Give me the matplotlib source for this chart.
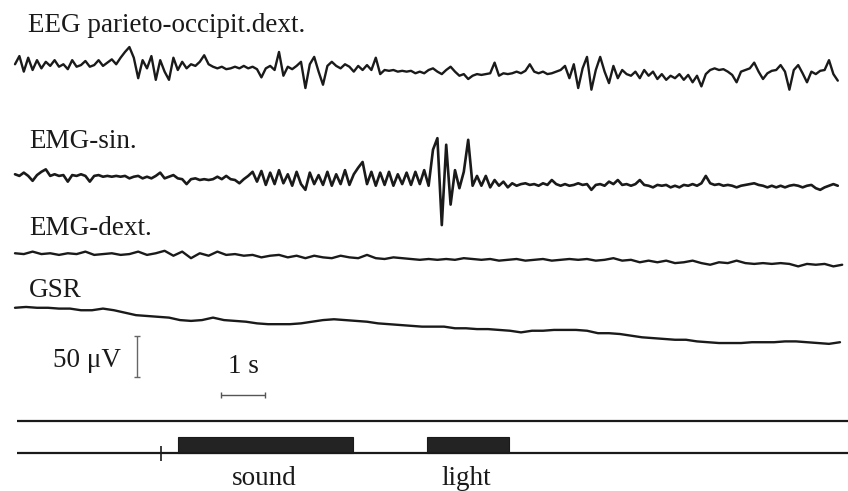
import numpy as np
import matplotlib.pyplot as plt

# traces, in µV relative to each trace's own baseline
eeg_dt = 0.1
eeg_uv = [7, 17, -2, 15, 0, 12, 2, 10, 5, 12,
          4, 7, 1, 12, 4, 6, 11, 4, 6, 12,
          5, 9, 13, 7, 15, 22, 28, 15, -10, 12,
          2, 17, -12, 12, -2, -12, 15, 0, 10, 2,
          7, 5, 10, 18, 7, 4, 2, 4, 1, 2,
          4, 2, 5, 2, 4, 1, -9, 2, 5, 0,
          22, -7, 4, 1, 5, 10, -22, 7, 16, -2,
          -18, 5, 10, 5, 2, 7, 4, -2, 5, 0,
          6, 0, 15, -5, 0, -1, 0, -2, -1, -2,
          -1, -4, -2, -4, 0, 2, -2, -5, 0, 4,
          -2, -7, -5, -11, -7, -5, -6, -5, -4, 9,
          -7, -4, -5, -4, -2, -4, -1, 7, -2, -4,
          -2, -5, -4, -2, 0, 5, -10, 7, -22, 2,
          16, -24, 0, 16, -2, -16, 5, -10, 0, -5,
          -7, -2, -10, 0, -7, -2, -11, -5, -12, -7,
          -10, -5, -12, -6, -15, -7, -20, -5, 0, 2,
          0, 1, -2, -6, -15, -2, 0, 2, 9, -2,
          -11, -4, -1, 0, 6, -2, -24, 0, 6, -4,
          -15, -2, -5, -1, 0, 12, -5, -13]

emg_sin_dt = 0.1
emg_sin_uv = [7, 5, 9, 5, -1, 6, 10, 13, 5, 7,
              5, 6, -2, 6, 5, 7, 5, -2, 5, 6,
              4, 5, 4, 5, 4, 5, 2, 4, 5, 2,
              4, 2, 5, 9, 2, 4, 6, 2, 1, -5,
              1, 2, 0, 1, 0, 1, 4, 1, 5, 1,
              0, -4, 1, 5, 10, -2, 11, -6, 9, -5,
              12, -4, 7, -7, 10, -5, -12, 9, -5, 6,
              -6, 10, -7, 7, -5, 12, -6, 7, 15, 22,
              -5, 10, -7, 9, -6, 10, -7, 7, -5, 9,
              -6, 10, -5, 12, -7, 37, 51, -55, 43, -30,
              12, -10, 10, 49, -7, 5, -7, 5, -9, 0,
              -7, -2, -9, -4, -7, -5, -4, -6, -5, -7,
              -4, -6, 0, -5, -7, -5, -7, -6, -4, -6,
              -5, -12, -6, -5, -7, -2, -5, 0, -6, -5,
              -7, -5, 0, -6, -7, -9, -6, -7, -6, -9,
              -7, -9, -6, -7, -5, -7, -4, 5, -4, -6,
              -5, -7, -6, -7, -9, -7, -6, -5, -4, -6,
              -7, -9, -7, -9, -7, -9, -7, -6, -7, -9,
              -7, -6, -10, -12, -9, -7, -5, -7]

emg_dext_dt = 0.2
emg_dext_uv = [7, 6, 9, 6, 7, 5, 7, 6, 9, 5,
               6, 7, 5, 6, 9, 5, 7, 10, 4, 9,
               1, 7, 4, 9, 5, 6, 4, 5, 2, 4,
               5, 2, 4, 1, 4, 2, 1, 4, 2, 1,
               5, 1, 0, 2, 1, 0, -1, 0, -1, 0,
               -1, 1, 0, -1, 0, -2, -1, 0, -2, -1,
               0, -2, -1, 0, -1, 0, -2, -1, 1, -2,
               -1, -4, -2, -4, -2, -5, -4, -2, -5, -7,
               -4, -5, -2, -5, -6, -5, -6, -5, -6, -9,
               -6, -7, -6, -9, -7]

gsr_dt = 0.25
gsr_uv = [21, 22, 21, 21, 20, 20, 18, 18, 20, 18,
          15, 12, 11, 10, 9, 6, 5, 6, 9, 6,
          5, 4, 2, 1, 1, 1, 2, 4, 6, 7,
          6, 5, 4, 2, 1, 0, -1, -2, -2, -2,
          -4, -4, -5, -5, -6, -7, -9, -7, -7, -6,
          -6, -6, -7, -10, -10, -11, -13, -15, -16, -17,
          -18, -18, -20, -21, -22, -22, -22, -21, -21, -21,
          -20, -20, -21, -22, -23, -21]

channel_names = ["EEG parieto-occipit.dext.", "EMG-sin.", "EMG-dext.", "GSR"]

# stimulus marks, seconds
stim_names = ["sound", "light"]
stim_on = [3.70, 9.36]
stim_off = [7.68, 11.23]
trigger_t = 3.32

# ---- layout: the page is laid out in scan pixels -----------------------
PX_PER_S = 44.0
UV_PER_PX = 50.0 / 41.0


def tx(px):
    return (px - 15) / PX_PER_S


def vy(px):
    return -px * UV_PER_PX


ink = "#1a1a1a"
serif = ["Liberation Serif", "DejaVu Serif"]
fsize = 19.5

fig = plt.figure(figsize=(8.48, 4.91), dpi=100)
ax = fig.add_axes([0, 0, 1, 1])
ax.set_xlim(tx(0), tx(848))
ax.set_ylim(vy(491), vy(0))
ax.axis("off")

traces = [(eeg_uv, eeg_dt, 70, 1.7),
          (emg_sin_uv, emg_sin_dt, 180, 1.9),
          (emg_dext_uv, emg_dext_dt, 259, 1.7),
          (gsr_uv, gsr_dt, 325, 1.7)]
for vals, dt, base, lw in traces:
    t = np.arange(len(vals)) * dt
    ax.plot(t, vy(base) + np.array(vals), color=ink, lw=lw,
            solid_joinstyle="round", solid_capstyle="round")

label_pos = [(28, 32), (29, 148), (29, 235), (29, 297)]
for name, (x, y) in zip(channel_names, label_pos):
    ax.text(tx(x), vy(y), name, family=serif, size=fsize, color=ink,
            va="baseline", ha="left")

# amplitude and time calibration
bar_x = tx(137)
ax.vlines(bar_x, vy(377), vy(377) + 50, color="#666666", lw=1.0)
cap = 3 / PX_PER_S
ax.hlines([vy(377), vy(377) + 50], bar_x - cap, bar_x + cap, color="#666666", lw=1.0)
ax.text(tx(53), vy(367), "50 μV", family=serif, size=fsize, color=ink,
        va="baseline", ha="left")

t0 = tx(221)
ax.hlines(vy(395), t0, t0 + 1.0, color="#555555", lw=1.0)
ax.vlines([t0, t0 + 1.0], vy(398), vy(392), color="#555555", lw=1.0)
ax.text(t0 + 0.5, vy(373), "1 s", family=serif, size=fsize, color=ink,
        va="baseline", ha="center")

# stimulus channels
ax.hlines(vy(421), tx(17), tx(848), color=ink, lw=1.6)
ax.hlines(vy(453), tx(17), tx(848), color=ink, lw=1.6)
ax.vlines(trigger_t, vy(461), vy(446), color=ink, lw=1.2)
on = np.array(stim_on)
off = np.array(stim_off)
ax.bar(on, 16 * UV_PER_PX, width=off - on, bottom=vy(453), align="edge",
       color="#232323", edgecolor=ink, lw=0.8)
for name, x in zip(stim_names, [232, 442]):
    ax.text(tx(x), vy(485), name, family=serif, size=fsize, color=ink,
            va="baseline", ha="left")

fig.savefig("out.png", dpi=100, facecolor="white")
